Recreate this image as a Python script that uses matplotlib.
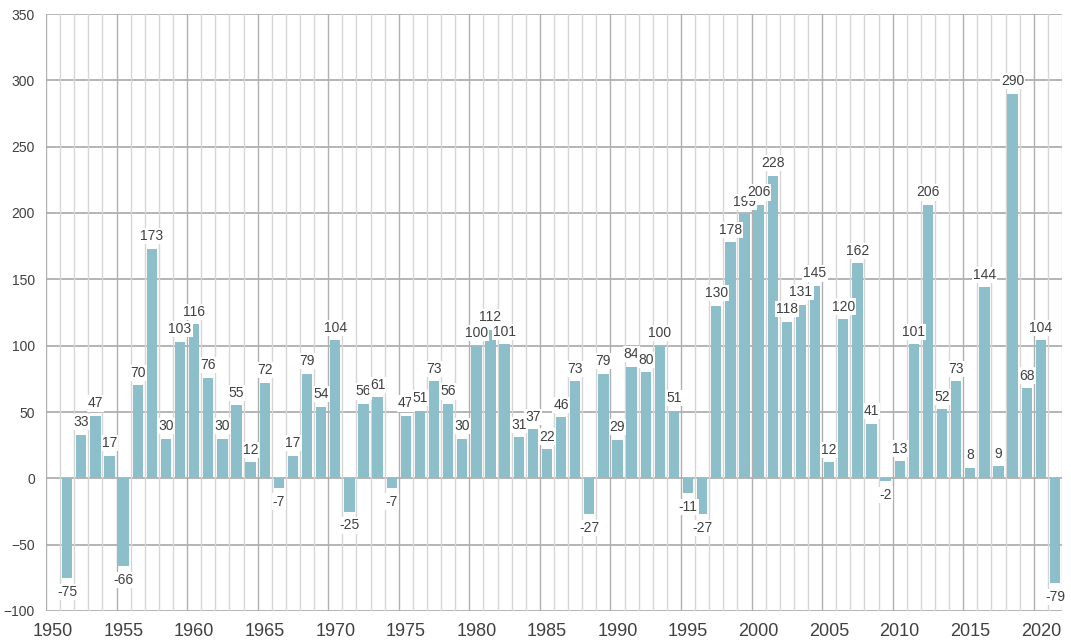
import matplotlib.pyplot as plt
import numpy as np
from matplotlib.ticker import MultipleLocator

plt.rcParams['font.family'] = ['Liberation Sans', 'DejaVu Sans']

years = np.arange(1951, 2022)
values = [-75, 33, 47, 17, -66, 70, 173, 30, 103, 116,
          76, 30, 55, 12, 72, -7, 17, 79, 54, 104,
          -25, 56, 61, -7, 47, 51, 73, 56, 30, 100,
          112, 101, 31, 37, 22, 46, 73, -27, 79, 29,
          84, 80, 100, 51, -11, -27, 130, 178, 199, 206,
          228, 118, 131, 145, 12, 120, 162, 41, -2, 13,
          101, 206, 52, 73, 8, 144, 9, 290, 68, 104,
          -79]
year_ticks = np.arange(1950, 2021, 5)

bar_col = '#8cbfc9'
txt_col = '#404040'

fig = plt.figure(figsize=(10.71, 6.41), dpi=100)
ax = fig.add_axes([46/1071, 30/641, 1016/1071, 597/641])

ax.bar(years, values, width=0.74, color=bar_col, zorder=3)

for x, v in zip(years, values):
    if v >= 0:
        ax.annotate(str(v), (x, v), xytext=(0, 4), textcoords='offset points',
                    ha='center', va='bottom', fontsize=10, color=txt_col, zorder=4,
                    bbox=dict(boxstyle='square,pad=0.08', fc='white', ec='none'))
    else:
        ax.annotate(str(v), (x, v), xytext=(0, -5), textcoords='offset points',
                    ha='center', va='top', fontsize=10, color=txt_col, zorder=4,
                    bbox=dict(boxstyle='square,pad=0.08', fc='white', ec='none'))

ax.set_xlim(1949.5, 2021.5)
ax.set_ylim(-100, 350)
ax.set_xticks(year_ticks)
ax.set_xticklabels([str(y) for y in year_ticks], fontsize=13, color=txt_col)
ax.yaxis.set_major_locator(MultipleLocator(50))
ax.tick_params(axis='y', labelsize=10, labelcolor=txt_col, length=0, pad=8)
ax.tick_params(axis='x', length=0, pad=9)

# grid: horizontal every 50, vertical at every category boundary
for y in np.arange(-100, 351, 50):
    ax.axhline(y, color='#a8a8a8', lw=1.2, zorder=1)
for b in np.arange(1949.5, 2022, 1):
    c = '#b0b0b0' if (b - 1954.5) % 5 == 0 else '#d6d6d6'
    ax.axvline(b, color=c, lw=1.0, zorder=1)

for s in ax.spines.values():
    s.set_visible(False)

fig.savefig('out.png', dpi=100)
